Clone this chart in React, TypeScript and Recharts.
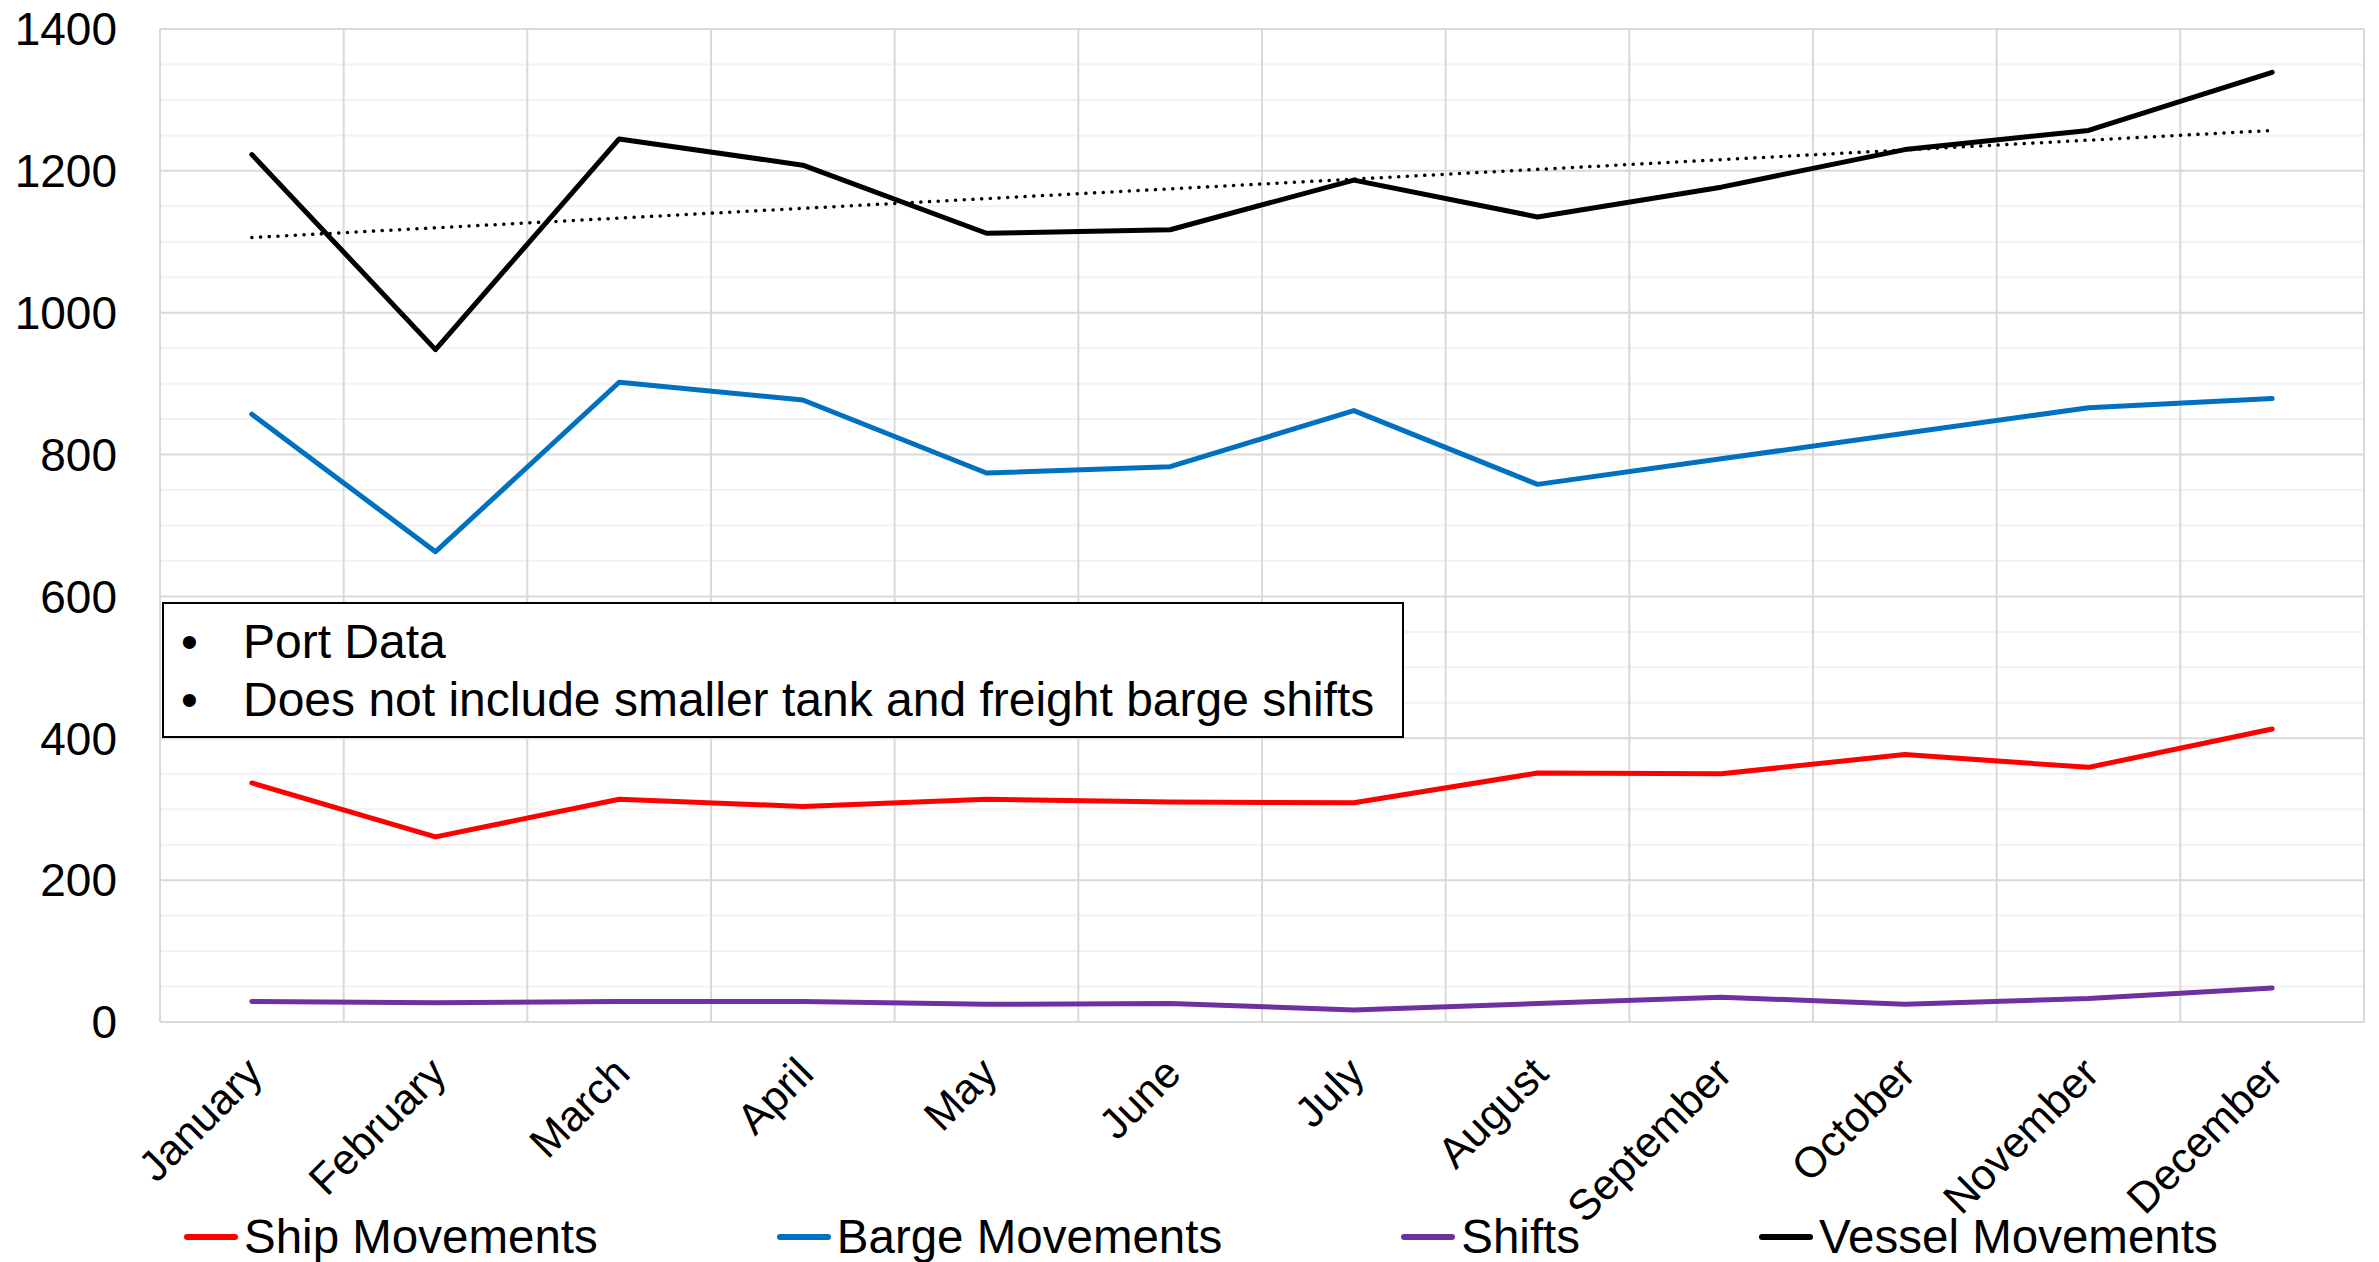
import React from 'react';
import { LineChart, Line, XAxis, YAxis, CartesianGrid, ReferenceLine, Legend } from 'recharts';

const months = ['January', 'February', 'March', 'April', 'May', 'June', 'July', 'August', 'September', 'October', 'November', 'December'];
const monthIndex = [0, 1, 2, 3, 4, 5, 6, 7, 8, 9, 10, 11];
const shipMovements = [337, 261, 314, 304, 314, 310, 309, 351, 350, 377, 359, 413];
const bargeMovements = [857, 663, 902, 877, 774, 783, 862, 758, 794, 830, 866, 879];
const shifts = [29, 27, 29, 29, 25, 26, 17, 26, 35, 25, 33, 48];
const vesselMovements = [1223, 948, 1245, 1208, 1112, 1117, 1187, 1135, 1177, 1230, 1257, 1339];
const trendEnds = [1106, 1257];

const yTicks = [0, 200, 400, 600, 800, 1000, 1200, 1400];
const yMinor = [50, 100, 150, 250, 300, 350, 450, 500, 550, 650, 700, 750, 850, 900, 950, 1050, 1100, 1150, 1250, 1300, 1350];
const xBoundaries = [-0.5, 0.5, 1.5, 2.5, 3.5, 4.5, 5.5, 6.5, 7.5, 8.5, 9.5, 10.5, 11.5];

const series = [
  { key: 'ship', name: 'Ship Movements', color: '#FF0000' },
  { key: 'barge', name: 'Barge Movements', color: '#0070C0' },
  { key: 'shifts', name: 'Shifts', color: '#7030A0' },
  { key: 'vessel', name: 'Vessel Movements', color: '#000000' },
];

const notes = ['Port Data', 'Does not include smaller tank and freight barge shifts'];

const data = monthIndex.map((i) => ({
  idx: i,
  month: months[i],
  ship: shipMovements[i],
  barge: bargeMovements[i],
  shifts: shifts[i],
  vessel: vesselMovements[i],
}));

const FONT = '"Liberation Sans", Arial, Helvetica, sans-serif';

const XTick = (props: any) => {
  const { x, y, payload } = props;
  const ax = x - 9;
  const ay = y + 32;
  return (
    <text
      x={ax}
      y={ay}
      dy="0.72em"
      textAnchor="end"
      transform={`rotate(-45, ${ax}, ${ay})`}
      fontSize={43}
      fontFamily={FONT}
      fill="#000"
    >
      {months[payload.value]}
    </text>
  );
};

const LegendContent = () => (
  <div
    style={{
      display: 'flex',
      alignItems: 'center',
      height: 60,
      paddingLeft: 184,
      gap: 179,
      fontFamily: FONT,
      fontSize: 47.5,
      lineHeight: '60px',
      color: '#000',
      whiteSpace: 'nowrap',
    }}
  >
    {series.map((s) => (
      <div key={s.key} style={{ display: 'flex', alignItems: 'center' }}>
        <svg width={54} height={10} style={{ marginRight: 6 }}>
          <line x1={3} y1={5} x2={51} y2={5} stroke={s.color} strokeWidth={6} strokeLinecap="round" />
        </svg>
        <span>{s.name}</span>
      </div>
    ))}
  </div>
);

export default function App() {
  return (
    <div style={{ position: 'absolute', left: 0, top: 0, width: 2379, height: 1262, background: '#fff' }}>
      <LineChart
        width={2379}
        height={1262}
        data={data}
        margin={{ top: 29, right: 15, left: 0, bottom: 0 }}
      >
        <CartesianGrid vertical={false} horizontalValues={yMinor} stroke="#F2F2F2" strokeWidth={2} />
        <CartesianGrid horizontalValues={yTicks} verticalValues={xBoundaries} stroke="#D9D9D9" strokeWidth={2} />
        <XAxis
          dataKey="idx"
          type="number"
          domain={[-0.5, 11.5]}
          ticks={monthIndex}
          interval={0}
          axisLine={false}
          tickLine={false}
          tickSize={0}
          tickMargin={0}
          height={180}
          tick={<XTick />}
        />
        <YAxis
          type="number"
          domain={[0, 1400]}
          ticks={yTicks}
          interval={0}
          width={160}
          axisLine={false}
          tickLine={false}
          tickSize={0}
          tickMargin={43}
          tick={{ fontSize: 46, fontFamily: FONT, fill: '#000' }}
        />
        <ReferenceLine
          segment={[{ x: 0, y: trendEnds[0] }, { x: 11, y: trendEnds[1] }]}
          stroke="#000"
          strokeWidth={3.5}
          strokeDasharray="0.1 8.6"
          strokeLinecap="round"
        />
        {series.map((s) => (
          <Line
            key={s.key}
            type="linear"
            dataKey={s.key}
            name={s.name}
            stroke={s.color}
            strokeWidth={5}
            strokeLinecap="round"
            strokeLinejoin="round"
            dot={false}
            activeDot={false}
            isAnimationActive={false}
          />
        ))}
        <Legend
          verticalAlign="bottom"
          content={<LegendContent />}
          wrapperStyle={{ top: 1207, left: 0, width: 2379, height: 60 }}
        />
      </LineChart>
      <div
        style={{
          position: 'absolute',
          left: 162,
          top: 602,
          width: 1242,
          height: 136,
          boxSizing: 'border-box',
          border: '2px solid #000',
          background: '#fff',
          paddingTop: 9,
          fontFamily: FONT,
          fontSize: 48,
          color: '#000',
          whiteSpace: 'nowrap',
        }}
      >
        {notes.map((n) => (
          <div key={n} style={{ height: 58, lineHeight: '58px', display: 'flex' }}>
            <span style={{ display: 'inline-block', width: 62, paddingLeft: 17 }}>•</span>
            <span>{n}</span>
          </div>
        ))}
      </div>
    </div>
  );
}
